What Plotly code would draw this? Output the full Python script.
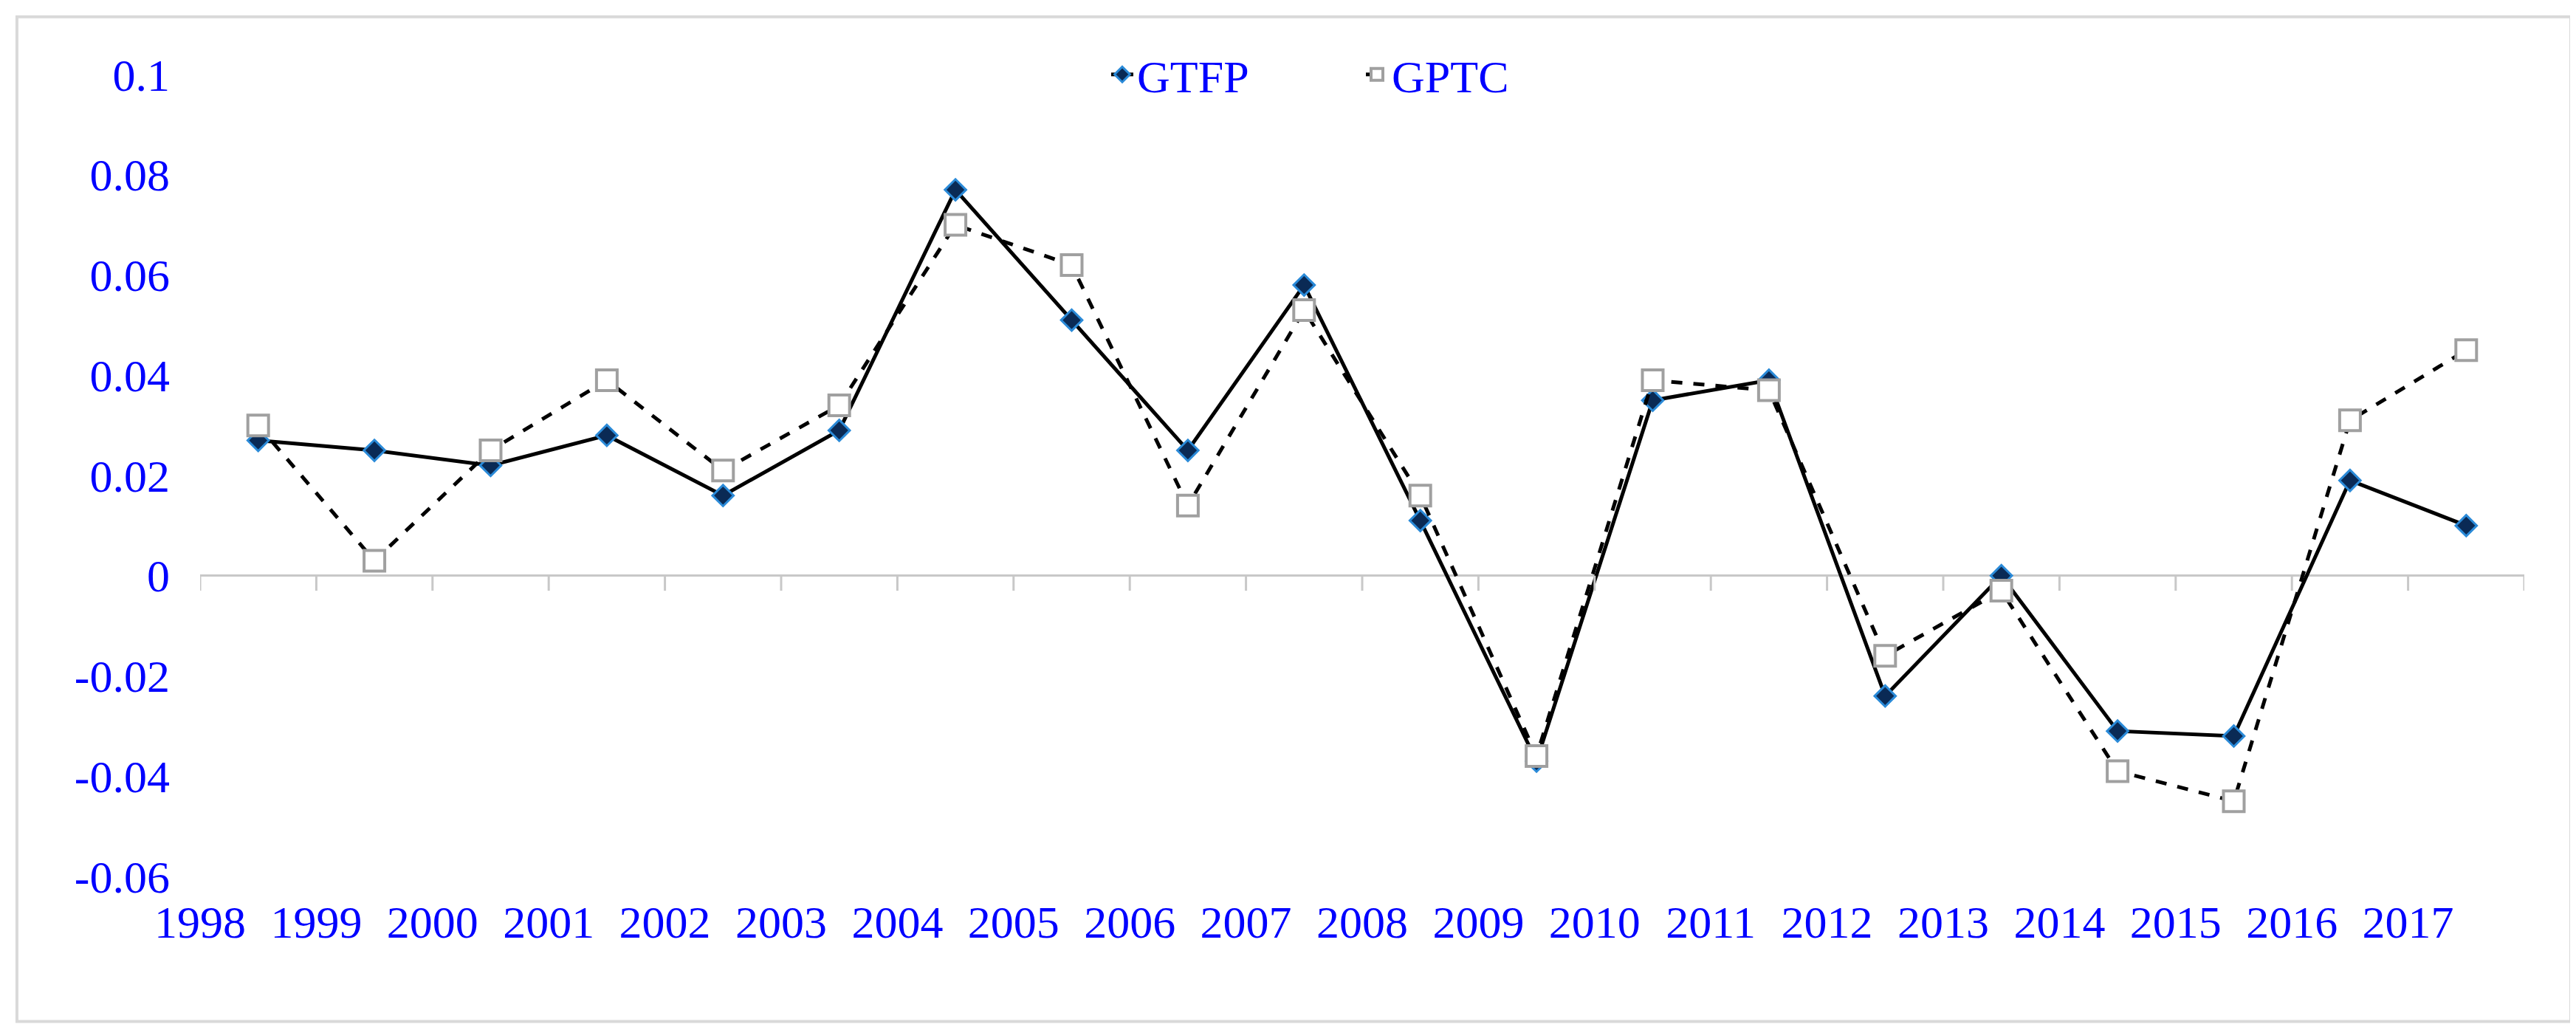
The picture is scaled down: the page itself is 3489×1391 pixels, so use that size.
import plotly.graph_objects as go

years = [str(y) for y in range(1998, 2018)]
gtfp = [0.027, 0.025, 0.022, 0.028, 0.016, 0.029, 0.077, 0.051, 0.025, 0.058,
        0.011, -0.037, 0.035, 0.039, -0.024, 0.000, -0.031, -0.032, 0.019, 0.010]
gptc = [0.030, 0.003, 0.025, 0.039, 0.021, 0.034, 0.070, 0.062, 0.014, 0.053,
        0.016, -0.036, 0.039, 0.037, -0.016, -0.003, -0.039, -0.045, 0.031, 0.045]

xpos = [i + 0.5 for i in range(len(years))]
font = "Liberation Serif"

fig = go.Figure()
fig.add_trace(go.Scatter(x=xpos, y=gtfp, name="GTFP", mode="lines+markers",
                         line=dict(color="black", width=5),
                         marker=dict(symbol="diamond", size=22, color="#0a2a55",
                                     line=dict(color="#2a8ad8", width=3))))
fig.add_trace(go.Scatter(x=xpos, y=gptc, name="GPTC", mode="lines+markers",
                         line=dict(color="black", width=5, dash="dash"),
                         marker=dict(symbol="square", size=28, color="white",
                                     line=dict(color="#a0a0a0", width=4))))

for i in range(len(years) + 1):
    fig.add_shape(type="line", xref="x", yref="y", x0=i, x1=i, y0=0, y1=-0.003,
                  line=dict(color="#c8c8c8", width=3))

fig.update_layout(
    width=3489, height=1391,
    paper_bgcolor="white", plot_bgcolor="white",
    margin=dict(l=263, r=78, t=93, b=212),
    font=dict(family=font, size=62, color="#0000ff"),
    legend=dict(orientation="h", x=0.5, xanchor="center", y=1.0, yanchor="middle",
                font=dict(family=font, size=62, color="#0000ff"),
                entrywidth=300, entrywidthmode="pixels"),
    showlegend=True,
)
fig.update_xaxes(range=[0, 20], tickmode="array", tickvals=list(range(len(years))),
                 ticktext=years, showgrid=False, showline=False, zeroline=False,
                 ticks="", ticklabelstandoff=20, tickfont=dict(size=62, color="#0000ff"))
fig.update_yaxes(range=[-0.06, 0.1], tickvals=[-0.06, -0.04, -0.02, 0, 0.02, 0.04, 0.06, 0.08, 0.1],
                 ticktext=["-0.06", "-0.04", "-0.02", "0", "0.02", "0.04", "0.06", "0.08", "0.1"],
                 showgrid=False, showline=False, zeroline=True, zerolinecolor="#c8c8c8",
                 zerolinewidth=3, ticklabelstandoff=40, tickfont=dict(size=62, color="#0000ff"))
fig.add_shape(type="rect", xref="paper", yref="paper", x0=-0.0788, x1=1.02, y0=-0.181, y1=1.072,
              line=dict(color="#d9d9d9", width=4))
fig.write_html("out.html")
